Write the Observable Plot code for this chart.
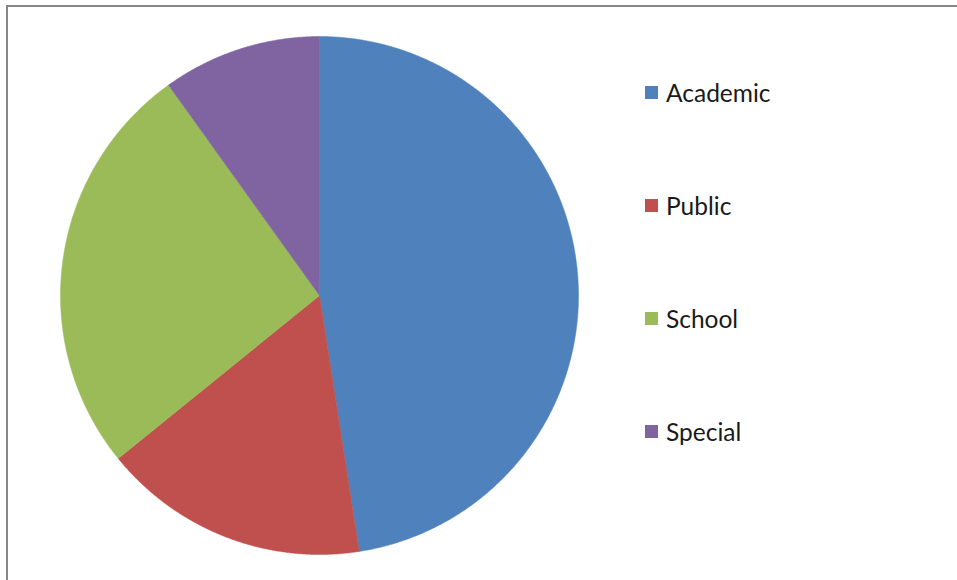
<!DOCTYPE html>
<html>
<head>
<meta charset="utf-8">
<script src="https://cdn.jsdelivr.net/npm/d3@7"></script>
<script src="https://cdn.jsdelivr.net/npm/@observablehq/plot@0.6"></script>
<style>
  html, body { margin: 0; padding: 0; background: #fff; }
  #wrap { position: relative; width: 957px; height: 580px; overflow: hidden; }
  #frame { position: absolute; left: 6px; top: 5px; width: 1000px; height: 1000px;
           border-left: 2px solid #868686; border-top: 2px solid #868686; box-sizing: border-box; }
  #chart { position: absolute; left: 0; top: 0; }
  .legend { position: absolute; left: 645px; font-family: Lato, "Liberation Sans", sans-serif;
            font-size: 24.5px; color: #1a1a1a; }
  .legend .item { position: absolute; left: 0; white-space: nowrap; height: 30px; line-height: 30px; }
  .legend .sw { position: absolute; left: 0; top: 9px; width: 13px; height: 13px; }
  .legend .lb { position: absolute; left: 21px; top: 1px; }
</style>
</head>
<body>
<div id="wrap">
  <div id="frame"></div>
  <div id="chart"></div>
  <div class="legend" id="legend"></div>
</div>
<script>
const categories = ["Academic", "Public", "School", "Special"];
const values = [47.5, 16.6, 25.9, 9.9];
const colors = ["#4F81BD", "#C0504D", "#9BBB59", "#8064A2"];

const total = d3.sum(values);
// build slice polygons (angles clockwise from 12 o'clock) from the values
const rows = [];
let start = 0;
categories.forEach((c, i) => {
  const a0 = start / total * 2 * Math.PI;
  const a1 = (start + values[i]) / total * 2 * Math.PI;
  start += values[i];
  rows.push({cat: c, x: 0, y: 0});
  const n = Math.max(2, Math.ceil((a1 - a0) / 0.005));
  for (let k = 0; k <= n; k++) {
    const a = a0 + (a1 - a0) * k / n;
    rows.push({cat: c, x: Math.sin(a), y: Math.cos(a)});
  }
  rows.push({cat: c, x: 0, y: 0});
});

const chart = Plot.plot({
  width: 957,
  height: 580,
  margin: 0,
  x: {domain: [-1, 1], range: [60, 578], axis: null},
  y: {domain: [-1, 1], range: [554, 36], axis: null},
  color: {domain: categories, range: colors},
  marks: [
    Plot.line(rows, {x: "x", y: "y", z: "cat", fill: "cat", stroke: "cat", strokeWidth: 0.5, curve: "linear"})
  ]
});
chart.style.background = "transparent";
document.getElementById("chart").appendChild(chart);

const legend = document.getElementById("legend");
categories.forEach((c, i) => {
  const it = document.createElement("div");
  it.className = "item";
  it.style.top = (77 + i * 113) + "px";
  it.innerHTML = `<span class="sw" style="background:${colors[i]}"></span><span class="lb">${c}</span>`;
  legend.appendChild(it);
});
</script>
</body>
</html>
